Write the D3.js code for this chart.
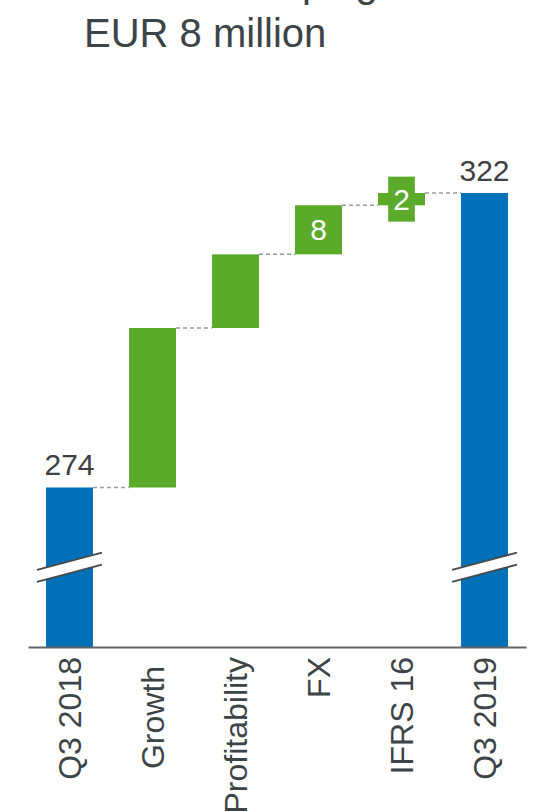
<!DOCTYPE html>
<html>
<head>
<meta charset="utf-8">
<script src="https://cdn.jsdelivr.net/npm/d3@7"></script>
<style>
  html, body { margin: 0; padding: 0; background: #fff; }
  svg { display: block; font-family: "Liberation Sans", Arial, sans-serif; }
</style>
</head>
<body>
<svg id="chart"></svg>
<script>
// Bridge chart Q3 2018 -> Q3 2019 (EUR million)
const categories = ['Q3 2018', 'Growth ', 'Profitability', 'FX', 'IFRS 16', 'Q3 2019'];
const values = [274, 26, 12, 8, 2, 322];
const barTypes = ['total', 'delta', 'delta', 'delta', 'delta', 'total'];
const valueLabels = ['274', '', '', '8', '2', '322'];
const titleLines = ['FX tailwind helping', 'EUR 8 million'];
const axisFloor = 248;   // value sitting on the (broken) baseline
const breakValue = 261;  // where the break marks cut the total bars

const COLORS = { total: '#0071b9', delta: '#5baa2a', text: '#3d4448', label: '#404040', axis: '#5f6569', dash: '#9a9a9a' };

const width = 543, height = 812;
const svg = d3.select('#chart')
    .attr('width', width)
    .attr('height', height)
    .attr('viewBox', [0, 0, width, height]);

// Title (first line runs off the top edge, as in the source slide)
svg.append('text')
    .attr('x', 42).attr('y', -3)
    .attr('font-size', '40px').attr('fill', COLORS.text)
    .text(titleLines[0]);
svg.append('text')
    .attr('x', 84).attr('y', 47)
    .attr('font-size', '40px').attr('fill', COLORS.text)
    .text(titleLines[1]);

// Running totals for the waterfall
let running = 0;
const rows = categories.map((cat, i) => {
    let start, end;
    if (barTypes[i] === 'total') {
        start = axisFloor;
        end = values[i];
    } else {
        start = running;
        end = running + values[i];
    }
    running = end;
    return { cat, type: barTypes[i], start, end, label: valueLabels[i] };
});

// Scales
const x = d3.scaleBand()
    .domain(categories)
    .range([28, 526])
    .paddingInner(0.434)
    .paddingOuter(0.217);

const y = d3.scaleLinear()
    .domain([axisFloor, d3.max(values)])
    .range([647, 193]);

const bw = x.bandwidth();

// Dashed connectors between consecutive bars
svg.append('g')
    .selectAll('line')
    .data(rows.slice(0, -1))
    .join('line')
    .attr('x1', d => x(d.cat) + bw)
    .attr('x2', (d, i) => x(rows[i + 1].cat))
    .attr('y1', d => y(d.end))
    .attr('y2', d => y(d.end))
    .attr('stroke', COLORS.dash)
    .attr('stroke-width', 1.5)
    .attr('stroke-dasharray', '4,3');

// Bars
svg.append('g')
    .selectAll('rect')
    .data(rows)
    .join('rect')
    .attr('x', d => x(d.cat))
    .attr('width', bw)
    .attr('y', d => y(Math.max(d.start, d.end)))
    .attr('height', d => Math.abs(y(d.start) - y(d.end)))
    .attr('fill', d => COLORS[d.type]);

// Axis break marks on the total bars
const slope = 0.266, gap = 6, ext = 9;
const breaks = svg.append('g')
    .selectAll('g')
    .data(rows.filter(d => d.type === 'total'))
    .join('g');

breaks.each(function (d) {
    const g = d3.select(this);
    const cx = x(d.cat) + bw / 2;
    const yc = y(breakValue);
    const x0 = x(d.cat) - ext, x1 = x(d.cat) + bw + ext;
    const ly = (xx, off) => yc - slope * (xx - cx) + off;
    g.append('polygon')
        .attr('points', [[x0, ly(x0, -gap)], [x1, ly(x1, -gap)], [x1, ly(x1, gap)], [x0, ly(x0, gap)]].join(' '))
        .attr('fill', '#fff');
    [-gap, gap].forEach(off => {
        g.append('line')
            .attr('x1', x0).attr('y1', ly(x0, off))
            .attr('x2', x1).attr('y2', ly(x1, off))
            .attr('stroke', '#454b50')
            .attr('stroke-width', 2);
    });
});

// X axis with rotated category labels
const axis = svg.append('g')
    .attr('transform', `translate(0,${y(axisFloor)})`)
    .call(d3.axisBottom(x).tickSize(0).tickSizeOuter(0).tickPadding(0));

axis.select('.domain')
    .attr('stroke', COLORS.axis)
    .attr('stroke-width', 2);

axis.selectAll('.tick text')
    .attr('transform', 'rotate(-90)')
    .attr('x', -10)
    .attr('y', 0)
    .attr('dy', '0.35em')
    .attr('text-anchor', 'end')
    .attr('font-size', '32px')
    .attr('font-family', '"Liberation Sans", Arial, sans-serif')
    .attr('fill', COLORS.text)
    .style('white-space', 'pre');

// Value labels
const labels = svg.append('g');

rows.filter(d => d.label).forEach(d => {
    const cx = x(d.cat) + bw / 2;
    if (d.type === 'total') {
        labels.append('text')
            .attr('x', cx)
            .attr('y', y(d.end) - 12)
            .attr('text-anchor', 'middle')
            .attr('font-size', '30px')
            .attr('fill', COLORS.label)
            .text(d.label);
        return;
    }
    const cy = (y(d.start) + y(d.end)) / 2;
    const barH = Math.abs(y(d.start) - y(d.end));
    const t = labels.append('text')
        .attr('x', cx)
        .attr('y', cy)
        .attr('dy', '0.35em')
        .attr('text-anchor', 'middle')
        .attr('font-size', '30px')
        .attr('fill', '#fff')
        .text(d.label);
    const box = t.node().getBBox();
    // Bar too thin for its label: put a green plate behind the number
    if (barH < box.height) {
        labels.insert('rect', () => t.node())
            .attr('x', cx - (box.width + 10) / 2)
            .attr('y', cy - (box.height + 12) / 2)
            .attr('width', box.width + 10)
            .attr('height', box.height + 12)
            .attr('fill', COLORS.delta);
    }
});
</script>
</body>
</html>
